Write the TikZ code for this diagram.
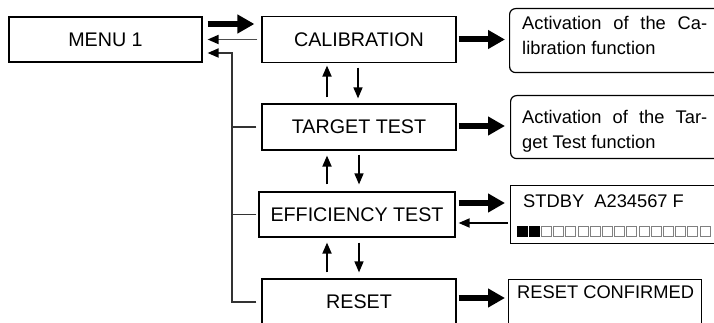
\documentclass[tikz,border=0pt]{standalone}
\usepackage{fontspec}
\setmainfont{Liberation Sans}
\usetikzlibrary{positioning,arrows.meta,calc}

\begin{document}
\begin{tikzpicture}[x=1pt,y=-1pt,
  menubox/.style={draw, line width=1.2pt, minimum width=194pt, minimum height=46pt, inner sep=0pt, font=\fontsize{19.7}{22}\selectfont},
  infobox/.style={draw, line width=1.2pt, inner sep=0pt, anchor=north west},
  note/.style={anchor=north west, inner sep=0pt, align=left, font=\fontsize{18.3}{25.5}\selectfont},
  fwd/.style={-{Triangle[length=17pt,width=18pt]}, line width=6pt},
  sig/.style={-{Triangle[length=11pt,width=9pt,color=black]}, line width=1.8pt},
  tree/.style={line width=1.8pt, black!80},
  cell/.style={draw=black!50, line width=1pt}]
\path[use as bounding box, clip] (0,0) rectangle (714,323);

% menu column
\node[menubox, minimum width=193pt, minimum height=45pt] (menu) at (105.5,39.5) {MENU 1};
\node[menubox] (calib) at (359,39.5) {CALIBRATION};
\node[menubox] (target) at (359,127) {TARGET TEST};
\node[menubox, minimum width=196pt, minimum height=45pt] (effic) at (357,214.5) {EFFICIENCY TEST};
\node[menubox] (reset) at (359,302) {RESET};

% what each entry shows
\node[infobox, rounded corners=6pt, minimum width=260pt, minimum height=64pt] (calbox) at (509,8) {};
\node[note] (caltext) at (522,15.6) {\makebox[185pt][s]{Activation of the Ca-}\\libration function};
\node[infobox, rounded corners=6pt, minimum width=260pt, minimum height=63pt] (tgtbox) at (510,95) {};
\node[note] (tgttext) at (522,109.6) {\makebox[185pt][s]{Activation of the Tar-}\\get Test function};
\node[infobox, minimum width=220pt, minimum height=58pt] (stdby) at (510,185) {};
\node[note, anchor=base west] (stdbytext) at (523,207) {STDBY\ \ A234567 F};
\foreach \k in {0,1}
  \draw[cell, fill=black, draw=black] ($(stdby.south west)+(7+12.2*\k,-18)$) rectangle ++(10,10);
\foreach \k in {2,...,15}
  \draw[cell] ($(stdby.south west)+(7+12.2*\k,-18)$) rectangle ++(10,10);
\node[infobox, minimum width=193pt, minimum height=60pt] (resconf) at (508,279) {};
\node[note, anchor=base west] (resconftext) at (517,298) {RESET CONFIRMED};

% menu 1 <-> first entry
\draw[fwd] ($(menu.east)+(5,-15.5)$) -- ($(calib.west)+(-7,-15.5)$);
\draw[sig, draw=black!70] ($(calib.west)+(-4,0)$) -- ($(menu.east)+(5,0)$);

% way back from every entry
\coordinate (spine) at ($(menu.east)+(29,0)$);
\draw[sig, tree] ($(reset.west)+(-5,0)$) -| ($(menu.east)+(29,13.5)$) -- ($(menu.east)+(5,13.5)$);
\draw[tree] ($(target.west)+(-5,0)$) -- (spine |- target.west);
\draw[tree] ($(effic.west)+(-2,0)$) -- (spine |- effic.west);

% up / down between entries
\draw[sig] ($(target.north)+(-32,-6)$) -- ($(calib.south)+(-32,2.5)$);
\draw[sig, line width=1.4pt] ($(calib.south)+(-1,4.5)$) -- ($(target.north)+(-1,-5)$);
\draw[sig] ($(effic.north)+(-30,-7)$) -- ($(target.south)+(-32,5)$);
\draw[sig, line width=1.4pt] ($(target.south)+(0,4)$) -- ($(effic.north)+(2,-7)$);
\draw[sig] ($(reset.north)+(-32,-6)$) -- ($(effic.south)+(-30,5)$);
\draw[sig, line width=1.4pt] ($(effic.south)+(2,5)$) -- ($(reset.north)+(0,-6)$);

% entries -> displays
\draw[fwd] ($(calib.east)+(2,0)$) -- ($(calib.east -| calbox.west)+(-4,0)$);
\draw[fwd] ($(target.east)+(2,-1)$) -- ($(target.east -| tgtbox.west)+(-5,-1)$);
\draw[fwd] ($(effic.east)+(3,-11.5)$) -- ($(effic.east -| stdby.west)+(-5,-11.5)$);
\draw[sig] ($(effic.east -| stdby.west)+(-2,8.5)$) -- ($(effic.east)+(3,8.5)$);
\draw[fwd] ($(reset.east)+(2,-4)$) -- ($(reset.east -| resconf.west)+(-3,-4)$);
\end{tikzpicture}
\end{document}
